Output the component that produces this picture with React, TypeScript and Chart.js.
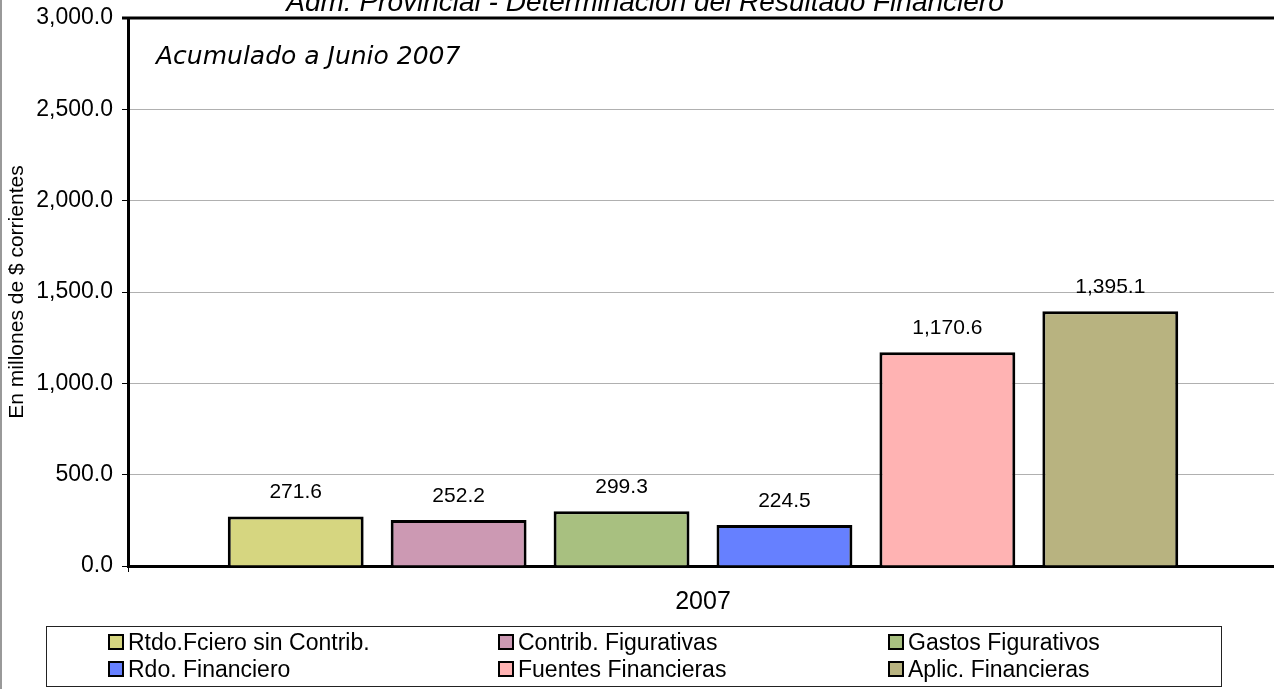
import React, { useEffect, useRef } from "react";
import { Chart, registerables } from "chart.js";

Chart.register(...registerables);

const categories = ["2007"];
const seriesNames = [
  "Rtdo.Fciero sin Contrib.",
  "Contrib. Figurativas",
  "Gastos Figurativos",
  "Rdo. Financiero",
  "Fuentes Financieras",
  "Aplic. Financieras",
];
const seriesValues = [271.6, 252.2, 299.3, 224.5, 1170.6, 1395.1];
const seriesColors = ["#D6D680", "#CC99B3", "#A8C080", "#6680FF", "#FFB3B3", "#B8B380"];
const yTicks = [0, 500, 1000, 1500, 2000, 2500, 3000];
const titleText = "Adm. Provincial - Determinación del Resultado Financiero";
const noteText = "Acumulado a Junio 2007";
const yAxisTitle = "En millones de $ corrientes";

const fmt = (v: number) =>
  v.toLocaleString("en-US", { minimumFractionDigits: 1, maximumFractionDigits: 1 });

const FONT = "'Liberation Sans', Arial, sans-serif";

const extras = {
  id: "extras",
  afterDraw(chart: any) {
    const { ctx, chartArea } = chart;
    ctx.save();
    // top border of plot
    ctx.strokeStyle = "#000";
    ctx.lineWidth = 3;
    ctx.beginPath();
    ctx.moveTo(chartArea.left - 6, chartArea.top);
    ctx.lineTo(chartArea.right, chartArea.top);
    ctx.stroke();
    // title
    ctx.fillStyle = "#000";
    ctx.font = `italic 28px ${FONT}`;
    ctx.textAlign = "center";
    ctx.textBaseline = "alphabetic";
    ctx.fillText(titleText, 645, 11);
    // note
    ctx.font = `oblique 25px 'DejaVu Sans', sans-serif`;
    ctx.textAlign = "left";
    ctx.textBaseline = "middle";
    ctx.fillText(noteText, 156, 57);
    // data labels
    ctx.font = `21px ${FONT}`;
    ctx.textAlign = "center";
    chart.data.datasets.forEach((ds: any, i: number) => {
      const meta = chart.getDatasetMeta(i);
      meta.data.forEach((bar: any, j: number) => {
        ctx.fillText(fmt(ds.data[j]), bar.x, bar.y - 24);
      });
    });
    ctx.restore();
  },
};

export default function App() {
  const ref = useRef<HTMLCanvasElement>(null);
  useEffect(() => {
    document.body.style.margin = "0";
    const chart = new Chart(ref.current!, {
      type: "bar",
      data: {
        labels: categories,
        datasets: seriesNames.map((name, i) => ({
          label: name,
          data: [seriesValues[i]],
          backgroundColor: seriesColors[i],
          borderColor: "#000",
          borderWidth: 3,
          categoryPercentage: 0.85,
          barPercentage: 0.834,
        })),
      },
      options: {
        animation: false,
        responsive: false,
        devicePixelRatio: 1,
        layout: { padding: { left: 0, top: 18, right: 12, bottom: 0 } },
        plugins: { legend: { display: false }, tooltip: { enabled: false } },
        scales: {
          x: {
            grid: { drawOnChartArea: false, drawTicks: true, tickLength: 6, color: "#000", offset: true },
            border: { color: "#000", width: 3 },
            ticks: { color: "#000", font: { family: FONT, size: 25 }, padding: 15 },
            afterFit: (s: any) => { s.height = 123; s.paddingLeft = 0; s.paddingRight = 0; },
          },
          y: {
            min: 0,
            max: 3000,
            afterBuildTicks: (s: any) => { s.ticks = yTicks.map((v) => ({ value: v })); },
            grid: { color: "#B0B0B0", lineWidth: 1, tickLength: 6, tickColor: "#000" },
            border: { color: "#000", width: 3 },
            ticks: { color: "#000", font: { family: FONT, size: 23 }, padding: 9, callback: (v: any) => fmt(Number(v)) },
            title: { display: true, text: yAxisTitle, color: "#000", font: { family: FONT, size: 21 }, padding: { top: 5, bottom: 0 } },
            afterFit: (s: any) => { s.width = 128; s.paddingTop = 0; s.paddingBottom = 0; },
          },
        },
      },
      plugins: [extras],
    });
    return () => chart.destroy();
  }, []);

  const colX = [108, 498, 888];
  return (
    <div style={{ position: "absolute", left: 0, top: 0, width: 1274, height: 689, overflow: "hidden", background: "#fff" }}>
      <canvas ref={ref} width={1290} height={689} style={{ position: "absolute", left: 0, top: 0 }} />
      <div style={{ position: "absolute", left: 0, top: 0, width: 2, height: 689, background: "#999" }} />
      <div style={{ position: "absolute", left: 46, top: 626, width: 1176, height: 61, border: "1px solid #222", boxSizing: "border-box" }}>
        {seriesNames.map((name, i) => {
          const col = i % 3;
          const row = Math.floor(i / 3);
          return (
            <div key={name} style={{ position: "absolute", left: colX[col] - 47, top: row === 0 ? 2 : 29, height: 26, display: "flex", alignItems: "center", fontFamily: FONT, fontSize: 23, color: "#000", whiteSpace: "nowrap" }}>
              <span style={{ display: "inline-block", width: 12, height: 12, border: "2px solid #000", background: seriesColors[i], marginRight: 4 }} />
              {name}
            </div>
          );
        })}
      </div>
    </div>
  );
}
